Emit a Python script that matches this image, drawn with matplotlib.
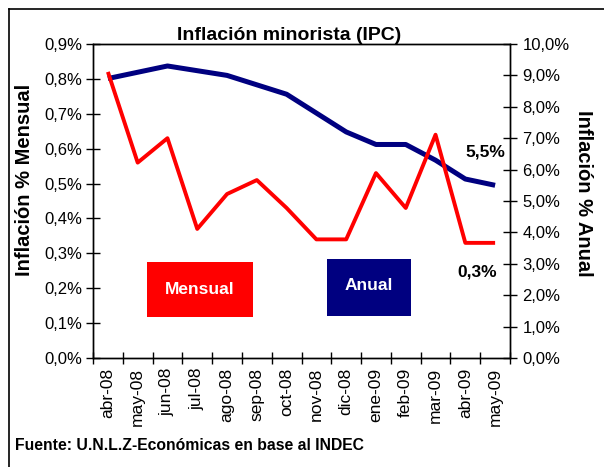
import numpy as np
import matplotlib
matplotlib.use("Agg")
import matplotlib.pyplot as plt
from matplotlib.patches import Rectangle
from matplotlib.lines import Line2D
from matplotlib.ticker import FuncFormatter, FixedLocator

plt.rcParams['font.family'] = ['Liberation Sans', 'DejaVu Sans']

# data
months = ['abr-08', 'may-08', 'jun-08', 'jul-08', 'ago-08', 'sep-08', 'oct-08',
          'nov-08', 'dic-08', 'ene-09', 'feb-09', 'mar-09', 'abr-09', 'may-09']
mensual = [0.82, 0.56, 0.63, 0.37, 0.47, 0.51, 0.43, 0.34, 0.34, 0.53, 0.43, 0.64, 0.33, 0.33]
anual = [8.9, 9.1, 9.3, 9.15, 9.0, 8.7, 8.4, 7.8, 7.2, 6.8, 6.8, 6.3, 5.7, 5.5]

RED = '#FF0000'
NAVY = '#000080'

def pct(v, p=None):
    return f"{v:.1f}%".replace('.', ',')

fig = plt.figure(figsize=(6.04, 4.67), dpi=100)
ax = fig.add_axes([93/604, 1-358/467, (510-93)/604, (358-44)/467])
ax2 = ax.twinx()

x = np.arange(len(months))
ax2.plot(x, anual, color=NAVY, lw=3.6, solid_capstyle='butt', zorder=2)
ax.plot(x, mensual, color=RED, lw=2.8, solid_capstyle='butt', zorder=3)
ax.set_zorder(ax2.get_zorder() + 1)
ax.patch.set_visible(False)

ax.set_xlim(-0.5, len(months) - 0.5)
ax.set_ylim(0, 0.9)
ax2.set_ylim(0, 10)
ax.set_yticks(np.arange(0, 0.91, 0.1))
ax2.set_yticks(np.arange(0, 10.1, 1))
ax.yaxis.set_major_formatter(FuncFormatter(pct))
ax2.yaxis.set_major_formatter(FuncFormatter(pct))

# category boundaries as ticks, labels at centers
ax.xaxis.set_major_locator(FixedLocator(np.arange(-0.5, len(months), 1)))
ax.xaxis.set_minor_locator(FixedLocator(x))
ax.set_xticklabels([], minor=False)
ax.set_xticklabels(months, minor=True, rotation=90, fontsize=12.5)
ax.tick_params(axis='x', which='minor', length=0, pad=7)
ax.tick_params(axis='x', which='major', direction='inout', length=8, width=1)
ax.tick_params(axis='y', direction='inout', length=10, width=1, labelsize=12, pad=3)
ax2.tick_params(axis='y', direction='inout', length=10, width=1, labelsize=12, pad=4)

for a in (ax, ax2):
    for s in a.spines.values():
        s.set_linewidth(1.0)

ax.set_title('Inflación minorista (IPC)', fontsize=14, fontweight='bold', pad=3, x=0.47)

fig.text(24.5/604, 1-180/467, 'Inflación % Mensual', rotation=90, fontsize=14.5,
         fontweight='bold', ha='center', va='center')
fig.text(583/604, 1-193/467, 'Inflación % Anual', rotation=-90, fontsize=14.5,
         fontweight='bold', ha='center', va='center')

# legend boxes
ax.add_patch(Rectangle((0.129, 0.130), 0.254, 0.177, transform=ax.transAxes,
                       facecolor=RED, edgecolor='none', zorder=4))
ax.text(0.256, 0.218, 'Mensual', transform=ax.transAxes, color='white',
        fontsize=12.5, fontweight='bold', ha='center', va='center', zorder=5)
ax.add_patch(Rectangle((0.560, 0.135), 0.202, 0.180, transform=ax.transAxes,
                       facecolor=NAVY, edgecolor='none', zorder=4))
ax.text(0.661, 0.232, 'Anual', transform=ax.transAxes, color='white',
        fontsize=12.5, fontweight='bold', ha='center', va='center', zorder=5)

ax.text(0.942, 0.656, pct(anual[-1]), transform=ax.transAxes,
        fontsize=12.5, fontweight='bold', ha='center', va='center')
ax.text(0.921, 0.274, pct(mensual[-1]), transform=ax.transAxes,
        fontsize=12.5, fontweight='bold', ha='center', va='center')

fig.text(15/604, 1-445/467, 'Fuente: U.N.L.Z-Económicas en base al INDEC', fontsize=11.3,
         fontweight='bold', ha='left', va='center')

# outer frame (left and top edges)
fig.add_artist(Line2D([9/604, 9/604], [0, 1-9/467], color='black', lw=1.2,
                      transform=fig.transFigure))
fig.add_artist(Line2D([9/604, 1], [1-9/467, 1-9/467], color='black', lw=1.2,
                      transform=fig.transFigure))

fig.savefig('out.png', dpi=100)
